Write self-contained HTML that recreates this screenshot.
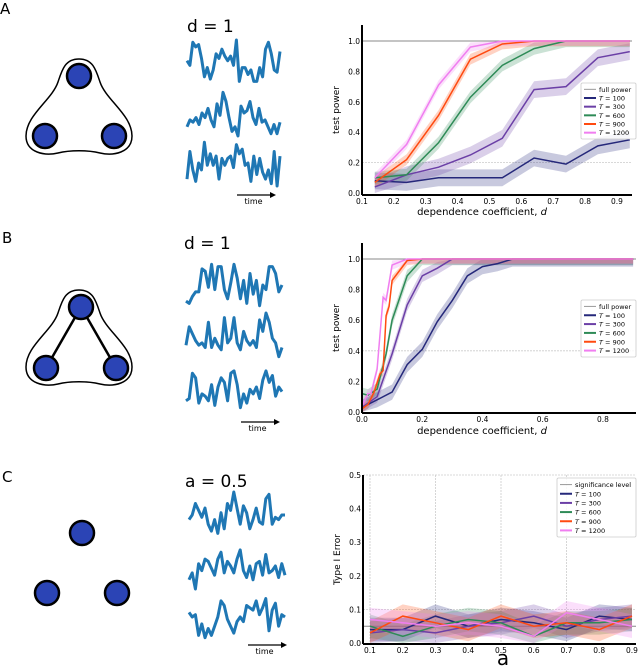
<!DOCTYPE html>
<html><head><meta charset="utf-8"><style>
html,body{margin:0;padding:0;background:#fff;width:640px;height:667px;overflow:hidden}
svg text{font-family:"DejaVu Sans","Liberation Sans",sans-serif}
</style></head><body>
<svg id="fig" width="640" height="667" viewBox="0 0 640 667" xmlns="http://www.w3.org/2000/svg"></svg>
<script>
// ---------- chart data ----------
const seriesNames = ["T = 100","T = 300","T = 600","T = 900","T = 1200"];
const seriesColors = ["#25287a","#6b3fa6","#2e8b57","#ff4a10","#f07ef0"];

const aX = [0.14,0.24,0.34,0.44,0.54,0.64,0.74,0.84,0.94];
const aT100 = [0.08,0.07,0.10,0.10,0.10,0.23,0.19,0.31,0.35];
const aT300 = [0.04,0.12,0.17,0.25,0.36,0.68,0.70,0.89,0.93];
const aT600 = [0.10,0.12,0.33,0.63,0.84,0.95,1.0,1.0,1.0];
const aT900 = [0.07,0.22,0.51,0.88,0.98,1.0,1.0,1.0,1.0];
const aT1200 = [0.10,0.32,0.71,0.96,1.0,1.0,1.0,1.0,1.0];
const aBand = [0.055,0.055,0.04,0.035,0.03];
const aXTicks = ["0.1","0.2","0.3","0.4","0.5","0.6","0.7","0.8","0.9"];
const aYTicks = ["0.0","0.2","0.4","0.6","0.8","1.0"];

const bX100 = [0,0.05,0.1,0.15,0.2,0.25,0.3,0.35,0.4,0.45,0.5,0.9];
const bT100 = [0.03,0.08,0.13,0.31,0.41,0.59,0.73,0.89,0.95,0.97,1.0,1.0];
const bX300 = [0,0.05,0.1,0.15,0.2,0.25,0.3,0.9];
const bT300 = [0.03,0.10,0.38,0.70,0.89,0.94,1.0,1.0];
const bX600 = [0,0.02,0.05,0.08,0.1,0.15,0.2,0.9];
const bT600 = [0.12,0.11,0.15,0.38,0.60,0.89,1.0,1.0];
const bX900 = [0,0.02,0.04,0.06,0.07,0.08,0.09,0.1,0.15,0.2,0.9];
const bT900 = [0.02,0.05,0.13,0.25,0.27,0.63,0.69,0.86,0.99,1.0,1.0];
const bX1200 = [0,0.02,0.03,0.05,0.07,0.08,0.1,0.15,0.9];
const bT1200 = [0.04,0.12,0.12,0.28,0.75,0.73,0.96,1.0,1.0];
const bBand = [0.05,0.04,0.04,0.03,0.03];
const bXTicks = ["0.0","0.2","0.4","0.6","0.8"];
const bYTicks = ["0.0","0.2","0.4","0.6","0.8","1.0"];

const cX = [0.1,0.2,0.3,0.4,0.5,0.6,0.7,0.8,0.9];
const cT100 = [0.04,0.04,0.08,0.05,0.07,0.06,0.04,0.08,0.07];
const cT300 = [0.03,0.04,0.03,0.05,0.06,0.08,0.05,0.07,0.08];
const cT600 = [0.05,0.02,0.05,0.07,0.06,0.02,0.06,0.06,0.07];
const cT900 = [0.03,0.08,0.06,0.04,0.08,0.05,0.06,0.04,0.08];
const cT1200 = [0.07,0.06,0.05,0.06,0.05,0.02,0.09,0.07,0.05];
const cBand = [0.035,0.035,0.035,0.035,0.035];
const cXTicks = ["0.1","0.2","0.3","0.4","0.5","0.6","0.7","0.8","0.9"];
const cYTicks = ["0.0","0.1","0.2","0.3","0.4","0.5"];

// time series (illustrative traces)
const ts1 = [0.1,-0.1,0.9,0.7,0.8,0.2,-0.6,-0.2,-0.7,-0.3,0.4,0.2,0.6,0.3,0.1,0.3,-0.1,1.0,-0.8,-0.2,-0.2,-0.5,-0.3,-0.8,-0.8,-0.2,-0.6,0.6,0.9,0.4,-0.3,-0.4,0.5];
const ts2 = [-0.6,-0.3,-0.4,-0.2,-0.5,0.0,-0.2,0.2,-0.3,-0.6,0.4,-0.1,0.9,0.5,-0.2,-0.8,-0.6,-1.0,0.3,0.0,0.1,0.5,-0.2,-0.5,0.2,-0.4,-0.3,-0.6,-0.9,-0.5,-0.9,-0.4];
const ts3 = [-0.7,0.5,-0.3,-0.8,0.0,-0.3,0.9,-0.1,0.4,-0.1,0.3,-0.7,0.2,-0.1,0.2,0.3,-0.2,0.8,0.4,0.6,-0.1,0.0,-0.8,0.3,-0.5,0.2,-0.4,-0.7,-0.3,-0.9,0.5,-1.0,0.3];
const ts4 = [-0.7,-0.8,-0.5,-0.3,-0.3,0.7,0.6,-0.1,0.9,-0.2,0.8,0.8,-0.2,-0.6,0.1,0.9,0.3,-0.6,0.2,-0.8,0.5,-0.4,0.2,-0.9,0.0,-0.2,0.8,0.8,0.5,-0.3,0.0];
const ts5 = [-0.4,0.4,0.1,-0.2,-0.4,-0.3,-0.5,0.6,-0.5,-0.1,-0.4,-0.6,0.8,-0.3,-0.1,0.8,-0.3,-0.6,0.2,-0.2,-0.4,-0.2,-0.5,0.7,0.2,1.0,0.6,-0.1,-0.3,-0.9,-0.5];
const ts6 = [-0.6,-0.5,0.6,0.4,-0.7,-0.3,-0.4,-0.6,0.1,-0.8,0.0,0.4,0.2,-0.6,0.6,0.7,0.1,-0.9,-0.3,-0.7,-0.1,-0.3,0.0,-0.5,0.3,0.7,0.2,0.5,-0.4,0.0,-0.2];
const ts7 = [-0.2,0.0,0.5,0.2,-0.1,0.3,-0.4,-0.7,-0.2,-0.8,0.1,-0.6,0.5,0.2,1.0,0.3,-0.4,0.4,0.1,-0.6,-0.2,0.3,-0.3,-0.4,0.7,0.9,-0.4,-0.1,-0.2,0.0,0.0];
const ts8 = [-0.6,-0.3,-1.0,0.1,-0.2,0.3,0.2,-0.1,-0.4,0.3,0.6,-0.3,0.2,0.0,-0.3,0.3,0.7,-0.2,-0.5,0.0,-0.6,0.1,0.2,-0.4,0.5,-0.3,-0.2,0.0,-0.5,0.1,-0.4];
const ts9 = [0.2,0.0,0.1,-0.8,-0.3,-0.9,-0.5,-0.8,-0.4,0.0,0.7,0.5,-0.1,-0.4,-0.7,-0.2,0.0,-0.2,0.5,0.4,0.3,0.7,0.1,0.4,0.8,-0.6,0.3,0.6,-0.4,0.1,0.0];

// ---------- helpers ----------
const NS = "http://www.w3.org/2000/svg";
const svg = document.getElementById("fig");
function mk(tag, attrs, parent, txt){
  const e = document.createElementNS(NS, tag);
  for (const k in attrs) e.setAttribute(k, attrs[k]);
  if (txt !== undefined) e.textContent = txt;
  (parent || svg).appendChild(e);
  return e;
}

function letter(t, x, y){
  const e = mk("text",{x:x,y:y,"font-size":"15"},svg,t);
  
  
}
letter("A",0,14); letter("B",2,243); letter("C",2,482);

function blob(dy){
  const p = mk("path",{d:`M79,${59+dy} C93,${59+dy} 96,${70+dy} 100,${82+dy} C106,${100+dy} 132,${115+dy} 132,${136+dy} C132,${153+dy} 113,${156+dy} 100,${153+dy} C88,${150+dy} 70,${150+dy} 58,${153+dy} C45,${156+dy} 26,${153+dy} 26,${136+dy} C26,${115+dy} 52,${100+dy} 58,${82+dy} C62,${70+dy} 65,${59+dy} 79,${59+dy} Z`,fill:"none",stroke:"#000","stroke-width":"1.5"});
  
  
}
function node(cx,cy){
  const c = mk("circle",{cx:cx,cy:cy,r:12,fill:"#2b44b5",stroke:"#000","stroke-width":"2.5"});
  
  
}
blob(0); node(79,76); node(45,136); node(114,136);
blob(231);
[[81,307,46,368],[81,307,116,368]].forEach(l=>{
  const e = mk("line",{x1:l[0],y1:l[1],x2:l[2],y2:l[3],stroke:"#000","stroke-width":"2.5"});
  
  
});
node(81,307); node(46,368); node(116,368);
node(82,533); node(47,593); node(117,593);

function trace(vals, x0, w, cy, amp){
  const step = w/(vals.length-1);
  const pts = vals.map((v,i)=>(x0+i*step).toFixed(1)+","+(cy - v*amp).toFixed(1)).join(" ");
  const e = mk("polyline",{points:pts,fill:"none",stroke:"#1f77b4","stroke-width":"3","stroke-linejoin":"round"});
  
  
}
function tsBlock(label, lx, ly, x0, w, rows, arrs, ay, ax0, ax1){
  const t = mk("text",{x:lx,y:ly,"font-size":"17"},svg,label);
  
  
  rows.forEach((cy,i)=>trace(arrs[i],x0,w,cy,23));
  const a = mk("line",{x1:ax0,y1:ay,x2:ax1-4,y2:ay,stroke:"#000","stroke-width":"1.2"});
  
  
  const h = mk("path",{d:`M${ax1},${ay} L${ax1-6},${ay-3} L${ax1-6},${ay+3} Z`,fill:"#000"});
  
  
  const tt = mk("text",{x:(ax0+ax1)/2-3,y:ay+9,"font-size":"8","text-anchor":"middle"},svg,"time");
  
  
}
tsBlock("d = 1",187,32,187,93,[63,113,163],[ts1,ts2,ts3],195,237,276);
tsBlock("d = 1",184,249,186,96,[285,336,387],[ts4,ts5,ts6],422,241,280);
tsBlock("a = 0.5",185,487,189,96,[515,566,617],[ts7,ts8,ts9],645,248,287);

function chart(cfg){
  const g = mk("g",{});
  
  
  const sx = v => cfg.px0 + (v - cfg.x0)/(cfg.x1 - cfg.x0)*(cfg.px1 - cfg.px0);
  const sy = v => cfg.py0 + (v - cfg.y0)/(cfg.y1 - cfg.y0)*(cfg.py1 - cfg.py0);
  cfg.hgrid.forEach(v=>{
    const e = mk("line",{x1:cfg.left,x2:cfg.right,y1:sy(v),y2:sy(v),stroke:"#ccc","stroke-width":"0.8","stroke-dasharray":"2,1"},g);
    
    
  });
  (cfg.vgrid||[]).forEach(v=>{
    const e = mk("line",{x1:sx(v),x2:sx(v),y1:cfg.top,y2:cfg.bottom,stroke:"#ccc","stroke-width":"0.8","stroke-dasharray":"2,1"},g);
    
    
  });
  const rl = mk("line",{x1:cfg.left,x2:cfg.right,y1:sy(cfg.refVal),y2:sy(cfg.refVal),stroke:"#888","stroke-width":"1"},g);
  
  
  cfg.series.forEach((s,i)=>{
    const xs = s[0], ys = s[1], b = cfg.band[i];
    const up = xs.map((x,j)=>sx(x).toFixed(1)+","+sy(Math.min(ys[j]+b, cfg.clip)).toFixed(1));
    const dn = xs.map((x,j)=>sx(x).toFixed(1)+","+sy(Math.max(ys[j]-b, 0)).toFixed(1)).reverse();
    const p = mk("polygon",{points:up.concat(dn).join(" "),fill:seriesColors[i],"fill-opacity":"0.25"},g);
    
    
  });
  cfg.series.forEach((s,i)=>{
    const pts = s[0].map((x,j)=>sx(x).toFixed(1)+","+sy(s[1][j]).toFixed(1)).join(" ");
    const l = mk("polyline",{points:pts,fill:"none",stroke:seriesColors[i],"stroke-width":"1.5"},g);
    
    
  });
  const sp1 = mk("line",{x1:cfg.left,x2:cfg.left,y1:cfg.top,y2:cfg.bottom,stroke:"#000","stroke-width":"2"},g);
  
  
  const sp2 = mk("line",{x1:cfg.left,x2:cfg.right,y1:cfg.bottom,y2:cfg.bottom,stroke:"#000","stroke-width":"2"},g);
  
  
  cfg.xTicks.forEach(t=>{
    const e = mk("text",{x:sx(parseFloat(t)),y:cfg.bottom+9,"font-size":"7.5","text-anchor":"middle"},g,t);
    
    
  });
  cfg.yTicks.forEach(t=>{
    const e = mk("text",{x:cfg.left-2,y:sy(parseFloat(t))+3,"font-size":"7.5","text-anchor":"end"},g,t);
    
    
  });
  const xl = mk("text",{x:cfg.xlx,y:cfg.xly,"font-size":cfg.xlSize,"text-anchor":"middle"},g,cfg.xlabel);
  
  
  if (cfg.xlItalic){ mk("tspan",{"font-style":"italic"},xl,cfg.xlItalic); }
  const yl = mk("text",{x:0,y:0,"font-size":"9","text-anchor":"middle",transform:`translate(${cfg.left-23},${(cfg.top+cfg.bottom)/2}) rotate(-90)`},g,cfg.ylabel);
  
  
  const L = cfg.legend;
  const lg = mk("g",{},g);
  
  
  mk("rect",{x:L.x,y:L.y,width:L.w,height:L.h,fill:"#fff","fill-opacity":"0.85",stroke:"#ccc","stroke-width":"0.8",rx:"1.5"},lg);
  const rowH = (L.h-4)/6;
  const labels = [cfg.refName].concat(seriesNames);
  labels.forEach((lab,i)=>{
    const y = L.y+2+rowH*(i+0.5);
    const col = i===0 ? "#999" : seriesColors[i-1];
    const ln = mk("line",{x1:L.x+3,x2:L.x+15,y1:y,y2:y,stroke:col,"stroke-width":i===0?"1":"2"},lg);
    
    
    let tx;
    if (i===0) tx = mk("text",{x:L.x+18,y:y+2.5,"font-size":"6.5"},lg,lab);
    else { tx = mk("text",{x:L.x+18,y:y+2.5,"font-size":"6.5"},lg);
      mk("tspan",{"font-style":"italic"},tx,"T"); mk("tspan",{},tx,lab.slice(1)); }
    
    
  });
}

chart({name:"chart-a", x0:0.1,x1:0.9,px0:362,px1:617, y0:0,y1:1,py0:193,py1:41,
  left:362,right:632,top:25,bottom:195, hgrid:[0.2,1.0], refVal:1.0, clip:1.0, band:aBand,
  series:[[aX,aT100],[aX,aT300],[aX,aT600],[aX,aT900],[aX,aT1200]],
  xTicks:aXTicks, yTicks:aYTicks, xlabel:"dependence coefficient, ", xlItalic:"d", xlx:482, xly:215, xlSize:"10",
  ylabel:"test power", refName:"full power", legend:{x:581,y:83,w:55,h:56}});

chart({name:"chart-b", x0:0,x1:0.8,px0:362,px1:603, y0:0,y1:1,py0:412,py1:259,
  left:362,right:636,top:243,bottom:413, hgrid:[0.4,1.0], refVal:1.0, clip:1.0, band:bBand,
  series:[[bX100,bT100],[bX300,bT300],[bX600,bT600],[bX900,bT900],[bX1200,bT1200]],
  xTicks:bXTicks, yTicks:bYTicks, xlabel:"dependence coefficient, ", xlItalic:"d", xlx:482, xly:434, xlSize:"10",
  ylabel:"test power", refName:"full power", legend:{x:581,y:300,w:55,h:57}});

chart({name:"chart-c", x0:0.1,x1:0.9,px0:370,px1:632, y0:0,y1:0.5,py0:643,py1:475,
  left:363,right:636,top:475,bottom:644, hgrid:[0.1,0.5], vgrid:[0.1,0.3,0.5,0.7], refVal:0.05, clip:0.5, band:cBand,
  series:[[cX,cT100],[cX,cT300],[cX,cT600],[cX,cT900],[cX,cT1200]],
  xTicks:cXTicks, yTicks:cYTicks, xlabel:"a", xlx:503, xly:665, xlSize:"20",
  ylabel:"Type I Error", refName:"significance level", legend:{x:557,y:478,w:79,h:59}});
</script>
</body></html>
